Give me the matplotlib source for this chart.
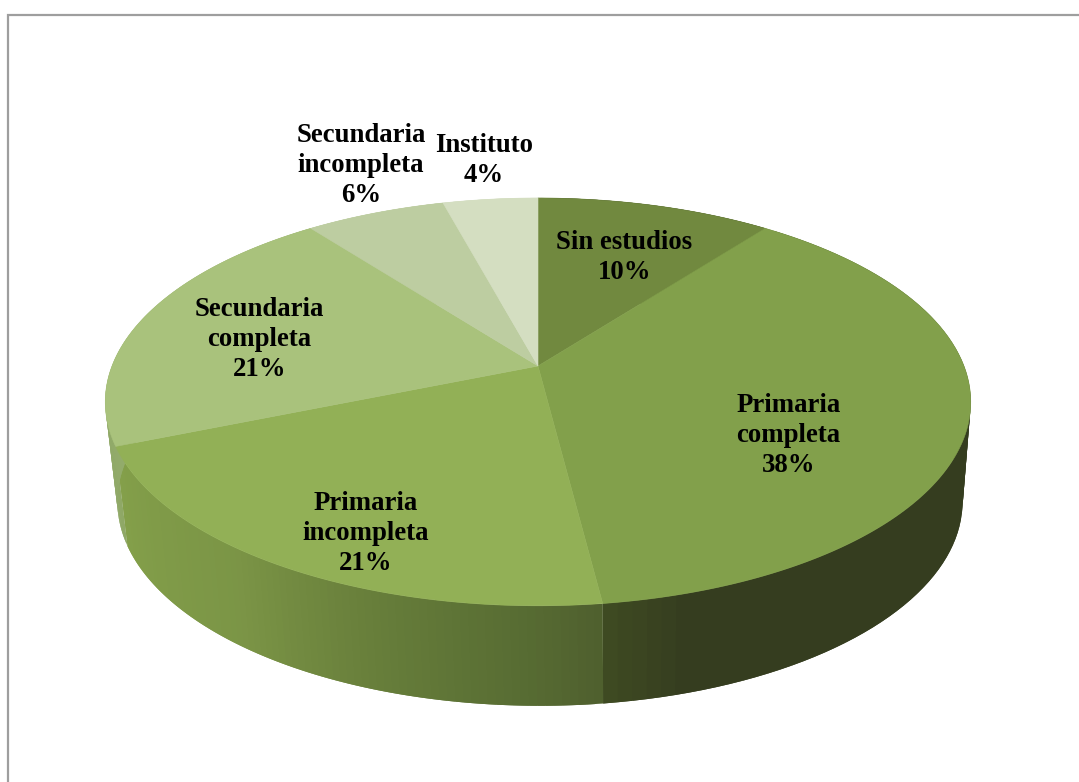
import numpy as np
import matplotlib
matplotlib.use("Agg")
import matplotlib.pyplot as plt
from matplotlib.colors import to_rgb

categories = ["Sin estudios", "Primaria\ncompleta", "Primaria\nincompleta",
              "Secundaria\ncompleta", "Secundaria\nincompleta", "Instituto"]
values = [10.4, 37.6, 20.8, 20.8, 6.2, 4.2]
top_colors = ["#71893F", "#82A04B", "#92B056", "#A9C27C", "#BDCDA1", "#D4DEC1"]
# wall shading per slice: colour stops (fraction along arc, colour)
wall_stops = [
    [(0, "#353D1F"), (1, "#353D1F")],
    [(0, "#353D1F"), (0.93, "#353D1F"), (1, "#3F4B22")],
    [(0, "#4F5F2E"), (0.1, "#566A32"), (0.36, "#687F3B"), (0.6, "#7B9546"), (1, "#84A04A")],
    [(0, "#8FA866"), (1, "#9BB276")],
    [(0, "#BDCDA1"), (1, "#BDCDA1")],
    [(0, "#D4DEC1"), (1, "#D4DEC1")],
]
label_pos = [(624.5, 257.5), (788.5, 435.5), (365.5, 533.5), (259.5, 339.5), (361, 165.5), (484, 160.5)]

CX, CY, A, B, K = 538, 366, 426, 197.6, 0.176
CX2, CY2, A2, B2 = 540, 466, 416, 197.6


def top(theta):
    X, Y = np.sin(theta), np.cos(theta)
    d = 1 + K * Y
    return CX + A * X / d, CY - B * Y / d


def bottom(theta):
    X, Y = np.sin(theta), np.cos(theta)
    d = 1 + K * Y
    return CX2 + A2 * X / d, CY2 - B2 * Y / d


fig = plt.figure(figsize=(10.79, 7.82), dpi=100)
ax = fig.add_axes([0, 0, 1, 1])
ax.set_xlim(0, 1079)
ax.set_ylim(782, 0)
ax.axis("off")

# chart frame
ax.plot([8, 8, 1079], [782, 15, 15], color="#9E9E9E", lw=1.6, solid_joinstyle="miter")

edges = np.radians(np.concatenate([[0], np.cumsum(values)]) * 3.6)

# side wall: overlapping strips painted in order so no seams show
for i in range(len(values)):
    n = 80
    th = np.linspace(edges[i], edges[i + 1], n + 1)
    ts, cs = zip(*wall_stops[i])
    cs = np.array([to_rgb(c) for c in cs])
    for j in range(n):
        t = (j + 0.5) / n
        col = tuple(np.interp(t, ts, cs[:, k]) for k in range(3))
        a, b = th[j], th[min(j + 2, n)]
        x0, y0 = top(a); x1, y1 = top(b)
        x2, y2 = bottom(b); x3, y3 = bottom(a)
        ax.fill([x0, x1, x2, x3], [y0, y1, y2, y3], color=col, lw=0, zorder=2 + i * 0.01)

# top face
for i, c in enumerate(top_colors):
    th = np.linspace(edges[i], edges[i + 1], 200)
    x, y = top(th)
    ax.fill(np.r_[CX, x], np.r_[CY, y], color=c, lw=0.4, zorder=3)

# labels
for name, v, (lx, ly) in zip(categories, values, label_pos):
    ax.text(lx, ly, f"{name}\n{v:.0f}%", ha="center", va="center", ma="center",
            family="Liberation Serif", weight="bold", fontsize=19.3,
            linespacing=1.28, color="black", zorder=5)

fig.savefig("out.png", dpi=100)
